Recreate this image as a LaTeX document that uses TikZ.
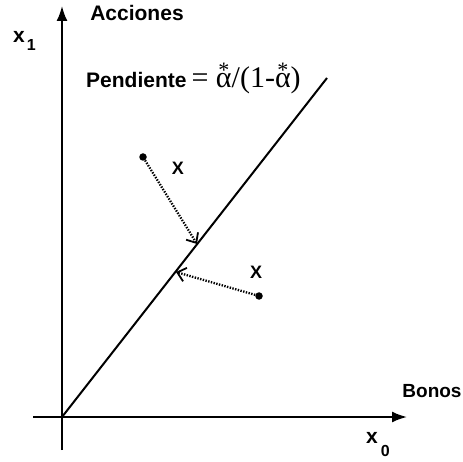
\documentclass[tikz,border=0pt]{standalone}
\usepackage{fontspec}
\setmainfont{Liberation Sans}
\newfontfamily\serifit{Liberation Serif}
\usetikzlibrary{arrows.meta}
\newcommand\astarsym{\ooalign{α\cr\hidewidth\raisebox{0.36em}{\fontsize{22}{22}\selectfont *}\hidewidth\cr}}
\begin{document}
\begin{tikzpicture}[x=1pt,y=-1pt,
  axis/.style={line width=2pt,-{Latex[length=15pt,width=11pt]}},
  diag/.style={line width=2pt},
  proj/.style={line width=2.3pt,dash pattern=on 1.4pt off 1.4pt,-{Straight Barb[length=8pt,width=14pt,line width=1.8pt]}},
  dot/.style={circle,fill=black,inner sep=0pt,minimum size=7.5pt},
  lab/.style={font=\fontsize{21}{21}\selectfont\bfseries,inner sep=0pt},
  xl/.style={font=\fontsize{18}{18}\selectfont\bfseries,inner sep=0pt}]
\useasboundingbox (0,0) rectangle (463,462);
\coordinate (O) at (62,417);
\coordinate (ybot) at (62,450);
\coordinate (ytop) at (62,6);
\coordinate (xleft) at (33,417);
\coordinate (xright) at (407,417);
\coordinate (T) at (327,78);
\draw[axis] (ybot) -- (ytop);
\draw[axis] (xleft) -- (xright);
\draw[diag] (O) -- (T);
\node[dot] (p1) at (143,157) {};
\node[dot] (p2) at (259,296) {};
\coordinate (q1) at (197,244);
\coordinate (q2) at (176,272);
\draw[proj] (p1) -- (q1);
\draw[proj] (p2) -- (q2);
\node[xl] (x1) at (178,168) {X};
\node[xl] (x2) at (256,272) {X};
\node[lab] (acc) at (137,13) {Acciones};
\node[font=\fontsize{19}{19}\selectfont\bfseries,inner sep=0pt] (bon) at (432,391) {Bonos};
\node[inner sep=0pt,anchor=base west] (pend) at (86,88) {\fontsize{21}{21}\selectfont\bfseries Pendiente\hspace{5pt}{\serifit\mdseries\fontsize{30}{30}\selectfont = \astarsym/(1-\astarsym)}};
\node[inner sep=0pt,anchor=base west] (xa) at (13,43) {\fontsize{21}{21}\selectfont\bfseries x\hspace{2pt}\raisebox{-8pt}{\fontsize{16}{16}\selectfont\bfseries 1}};
\node[inner sep=0pt,anchor=base west] (xb) at (366,443) {\fontsize{21}{21}\selectfont\bfseries x\hspace{3pt}\raisebox{-13pt}{\fontsize{16}{16}\selectfont\bfseries 0}};
\end{tikzpicture}
\end{document}
